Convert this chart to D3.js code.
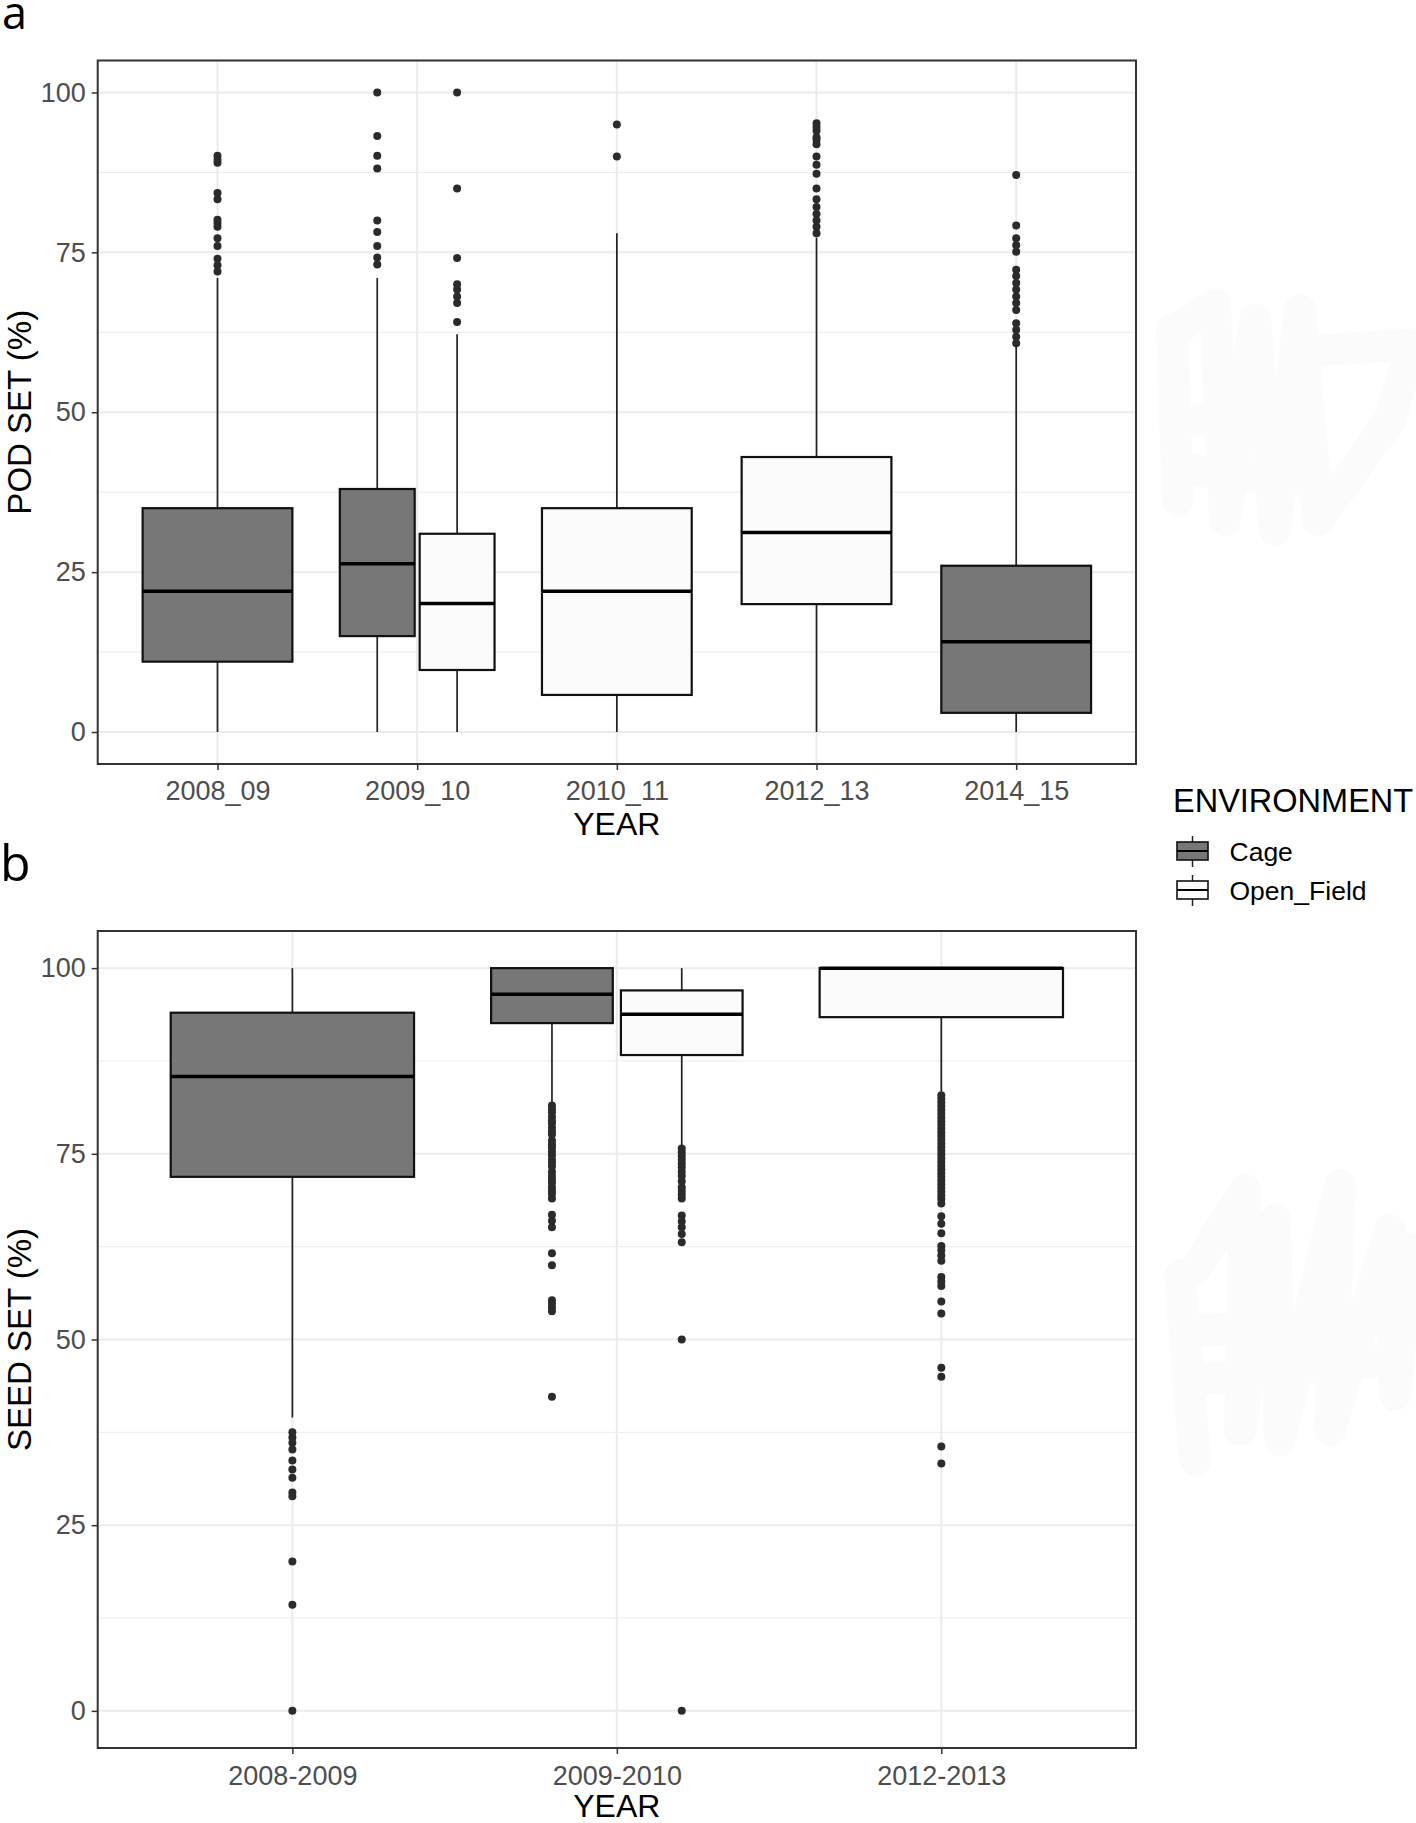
<!DOCTYPE html>
<html><head><meta charset="utf-8">
<script src="https://cdn.jsdelivr.net/npm/d3@7"></script>
<style>body{margin:0;background:#fff}</style>
</head><body><svg id="c" width="1416" height="1823"></svg>
<script>
// ---------- DATA ----------
const environments = ["Cage", "Open_Field"];
const yTicks = [0, 25, 50, 75, 100];

// Panel a: POD SET (%)
const podYears = ["2008_09", "2009_10", "2010_11", "2012_13", "2014_15"];
const podYear  = ["2008_09", "2009_10", "2009_10", "2010_11", "2012_13", "2014_15"];
const podEnv   = ["Cage", "Cage", "Open_Field", "Open_Field", "Open_Field", "Cage"];
const podLow   = [0, 0, 0, 0, 0, 0];
const podQ1    = [11, 15, 9.7, 5.8, 20, 3];
const podMed   = [22, 26.3, 20.1, 22, 31.2, 14.1];
const podQ3    = [35, 38, 31, 35, 43, 26];
const podHigh  = [71, 71, 62.2, 78, 77.3, 60.3];
const podOut   = [
  [72, 73, 74, 76, 77.2, 79, 79.6, 80.1, 83.3, 84.3, 89, 89.5, 90.1],
  [73.1, 74.2, 76, 78.2, 80, 88.1, 90.1, 93.2, 100],
  [64.1, 67.1, 68.1, 69.2, 70, 74.1, 85, 100],
  [90, 95],
  [78, 79, 80, 81, 82.1, 83.3, 85, 87.3, 88.7, 90, 91.9, 92.6, 93, 94, 94.6, 95.2],
  [60.8, 61.8, 62.9, 63.9, 66, 67.1, 68.1, 69.2, 70.2, 71.3, 72.3, 75.1, 76.1, 77.2, 79.2, 87.1]
];

// Panel b: SEED SET (%)
const seedYears = ["2008-2009", "2009-2010", "2012-2013"];
const seedYear  = ["2008-2009", "2009-2010", "2009-2010", "2012-2013"];
const seedEnv   = ["Cage", "Cage", "Open_Field", "Open_Field"];
const seedLow   = [39.5, 81.8, 76, 83.4];
const seedQ1    = [71.9, 92.6, 88.3, 93.4];
const seedMed   = [85.4, 96.5, 93.8, 100];
const seedQ3    = [94, 100, 97, 100];
const seedHigh  = [100, 100, 100, 100];
const seedOut   = [
  [0, 14.3, 20.1, 28.9, 29.4, 31.4, 32.5, 33.7, 35.2, 36.1, 36.8, 37.5],
  [42.3, 53.8, 54.3, 54.8, 55.3, 60, 61.6, 65.1, 66, 66.8, 69, 69.6, 70, 70.5, 71.1, 71.5, 72, 72.6,
   73.3, 73.8, 74.2, 74.8, 75.3, 75.9, 76.3, 76.8, 77.6, 78, 78.5, 79.1, 79.5, 80, 80.6, 81, 81.5],
  [0, 50, 63.1, 64.2, 65.1, 65.9, 66.7, 69, 69.5, 70, 70.5, 71.3, 72, 72.6, 73.2, 73.7, 74.2, 74.7, 75.2, 75.7],
  [33.3, 35.6, 45, 46.2, 53.5, 55.1, 57.2, 57.8, 58.4, 60.6, 61.3, 62, 62.6, 64.3, 65.6, 66.6,
   68.3, 68.9, 69.4, 69.9, 70.4, 70.9, 71.4, 71.9, 72.4, 72.9, 73.4, 73.9, 74.4, 74.9, 75.4, 75.9,
   76.4, 76.9, 77.4, 77.9, 78.4, 78.9, 79.4, 79.9, 80.4, 80.9, 81.4, 81.9, 82.4, 82.9]
];

// ---------- STYLE ----------
const fills = {Cage: "#777777", Open_Field: "#fcfbfc"};
const gridCol = "#ebebeb";
const tickCol = "#4d4d4d";
const font = "'Liberation Sans', Arial, sans-serif";

const svg = d3.select("#c");
svg.append("rect").attr("width", 1416).attr("height", 1823).attr("fill", "#fff");

// faint erased smudges on the right
const smudge = svg.append("g").attr("fill", "none").attr("stroke", "#fbfbfb")
  .attr("stroke-width", 32).attr("stroke-linecap", "round").attr("stroke-linejoin", "round");
smudge.append("path").attr("d", "M1172,330 L1178,500 M1175,330 L1215,305 L1225,520 L1255,320 L1275,530 L1300,310 L1318,520 L1390,420 L1410,350 M1320,350 L1408,345 M1200,420 L1300,420 M1190,470 L1310,480");
smudge.append("path").attr("d", "M1180,1275 L1195,1460 M1195,1270 L1245,1190 L1240,1430 L1275,1220 L1280,1440 L1340,1185 L1330,1430 L1390,1230 L1395,1395 L1410,1250 M1200,1330 L1400,1320 M1200,1380 L1380,1360");

function panel(cfg) {
  const {years, yr, env, lo, q1, med, q3, hi, outs, left, right, top, bottom, yTitle, xLabelY, xTitleY} = cfg;
  const x = d3.scalePoint().domain(years).range([left, right]).padding(0.6);
  const y = d3.scaleLinear().domain([-5, 105]).range([bottom, top]);
  const step = x.step();
  const g = svg.append("g");

  // grid
  const minor = [12.5, 37.5, 62.5, 87.5];
  g.selectAll(".gmin").data(minor).join("line")
    .attr("x1", left).attr("x2", right).attr("y1", d => y(d)).attr("y2", d => y(d))
    .attr("stroke", gridCol).attr("stroke-width", 1);
  g.selectAll(".gmaj").data(yTicks).join("line")
    .attr("x1", left).attr("x2", right).attr("y1", d => y(d)).attr("y2", d => y(d))
    .attr("stroke", gridCol).attr("stroke-width", 2);
  g.selectAll(".gx").data(years).join("line")
    .attr("x1", d => x(d)).attr("x2", d => x(d)).attr("y1", top).attr("y2", bottom)
    .attr("stroke", gridCol).attr("stroke-width", 2);

  // boxes
  const rows = yr.map((d, i) => {
    const n = yr.filter(v => v === d).length;
    let cx = x(d), w = 0.75 * step;
    if (n === 2) {
      w = 0.375 * step;
      cx += (env[i] === "Cage" ? -0.2 : 0.2) * step;
    }
    return {cx, w, env: env[i], lo: lo[i], q1: q1[i], med: med[i], q3: q3[i], hi: hi[i], out: outs[i]};
  });
  const bg = g.selectAll(".box").data(rows).join("g");
  bg.append("line").attr("x1", d => d.cx).attr("x2", d => d.cx)
    .attr("y1", d => y(d.hi)).attr("y2", d => y(d.q3)).attr("stroke", "#222").attr("stroke-width", 1.7);
  bg.append("line").attr("x1", d => d.cx).attr("x2", d => d.cx)
    .attr("y1", d => y(d.q1)).attr("y2", d => y(d.lo)).attr("stroke", "#222").attr("stroke-width", 1.7);
  bg.append("rect").attr("x", d => d.cx - d.w / 2).attr("width", d => d.w)
    .attr("y", d => y(d.q3)).attr("height", d => y(d.q1) - y(d.q3))
    .attr("fill", d => fills[d.env]).attr("stroke", "#111").attr("stroke-width", 2.2);
  bg.append("line").attr("x1", d => d.cx - d.w / 2).attr("x2", d => d.cx + d.w / 2)
    .attr("y1", d => y(d.med)).attr("y2", d => y(d.med)).attr("stroke", "#000").attr("stroke-width", 3.5);
  bg.each(function(d) {
    d3.select(this).selectAll("circle").data(d.out).join("circle")
      .attr("cx", d.cx).attr("cy", v => y(v)).attr("r", 4).attr("fill", "#2b2b2b");
  });

  // border
  g.append("rect").attr("x", left).attr("y", top).attr("width", right - left).attr("height", bottom - top)
    .attr("fill", "none").attr("stroke", "#333").attr("stroke-width", 2);

  // axes
  const ya = g.append("g").attr("transform", `translate(${left},0)`)
    .call(d3.axisLeft(y).tickValues(yTicks).tickSize(6).tickPadding(6).tickSizeOuter(0));
  ya.select(".domain").remove();
  ya.selectAll("line").attr("stroke", "#333").attr("stroke-width", 1.5);
  ya.selectAll("text").attr("fill", tickCol).attr("font-size", 27).attr("font-family", font);

  const xa = g.append("g").attr("transform", `translate(0,${bottom})`)
    .call(d3.axisBottom(x).tickSize(6).tickPadding(10).tickSizeOuter(0));
  xa.select(".domain").remove();
  xa.selectAll("line").attr("stroke", "#333").attr("stroke-width", 1.5);
  xa.selectAll("text").attr("fill", tickCol).attr("font-size", 27).attr("font-family", font)
    .attr("dy", null).attr("y", xLabelY - bottom);

  g.append("text").attr("x", (left + right) / 2).attr("y", xTitleY).attr("text-anchor", "middle")
    .attr("font-size", 32).attr("font-family", font).attr("fill", "#000").text("YEAR");
  g.append("text").attr("transform", `translate(31,${(top + bottom) / 2}) rotate(-90)`)
    .attr("text-anchor", "middle").attr("font-size", 33).attr("font-family", font)
    .attr("fill", "#000").text(yTitle);
}

panel({years: podYears, yr: podYear, env: podEnv, lo: podLow, q1: podQ1, med: podMed, q3: podQ3,
  hi: podHigh, outs: podOut, left: 97.7, right: 1136, top: 60.5, bottom: 764,
  yTitle: "POD SET (%)", xLabelY: 800, xTitleY: 835});
panel({years: seedYears, yr: seedYear, env: seedEnv, lo: seedLow, q1: seedQ1, med: seedMed, q3: seedQ3,
  hi: seedHigh, outs: seedOut, left: 97.7, right: 1136, top: 931, bottom: 1748,
  yTitle: "SEED SET (%)", xLabelY: 1785, xTitleY: 1817});

// panel letters
svg.append("text").attr("x", 2).attr("y", 29).attr("font-size", 45)
  .attr("font-family", "'Open Sans', sans-serif").text("a");
svg.append("text").attr("x", 0).attr("y", 881).attr("font-size", 50)
  .attr("font-family", "'Open Sans', sans-serif").text("b");

// legend
const lg = svg.append("g");
lg.append("text").attr("x", 1173).attr("y", 812).attr("font-size", 32.5).attr("font-family", font)
  .attr("fill", "#000").text("ENVIRONMENT");
const keyY = [851, 890];
const kg = lg.selectAll(".key").data(environments).join("g")
  .attr("transform", (d, i) => `translate(1192.5,${keyY[i]})`);
kg.append("line").attr("y1", -15).attr("y2", 16).attr("stroke", "#222").attr("stroke-width", 1.5);
kg.append("rect").attr("x", -15.5).attr("y", -9).attr("width", 31).attr("height", 18)
  .attr("fill", d => fills[d]).attr("stroke", "#111").attr("stroke-width", 1.6);
kg.append("line").attr("x1", -15.5).attr("x2", 15.5).attr("stroke", "#000").attr("stroke-width", 2);
kg.append("text").attr("x", 37).attr("y", 10).attr("font-size", 26.5).attr("font-family", font)
  .attr("fill", "#000").text(d => d);
</script></body></html>
